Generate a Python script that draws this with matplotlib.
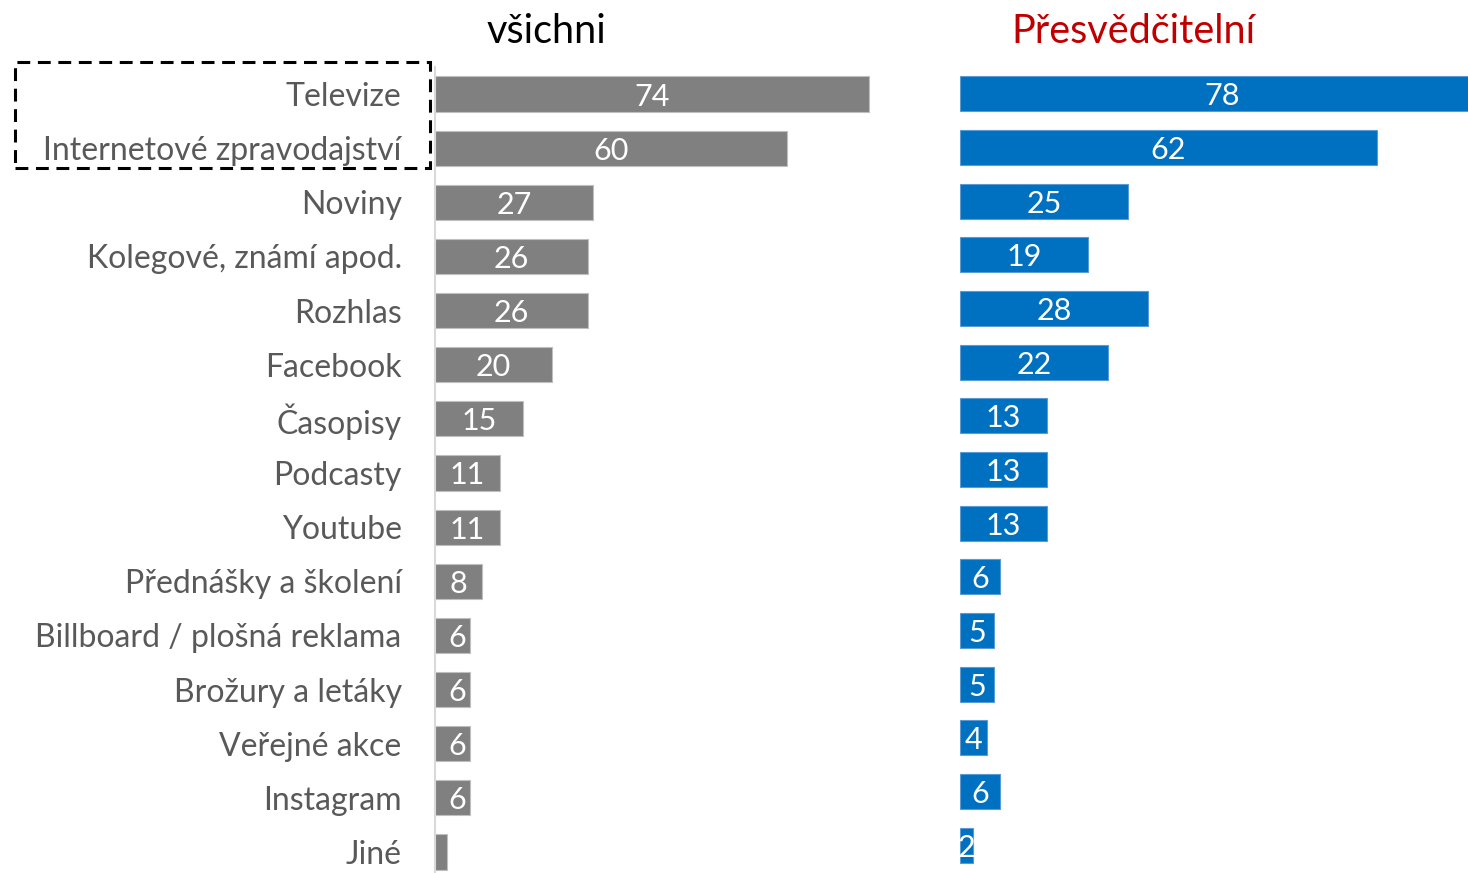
import matplotlib
matplotlib.use("Agg")
import matplotlib.pyplot as plt
from matplotlib.patches import Rectangle

# categories (top to bottom)
categories = ["Televize", "Internetové zpravodajství", "Noviny", "Kolegové, známí apod.",
              "Rozhlas", "Facebook", "Časopisy", "Podcasty", "Youtube",
              "Přednášky a školení", "Billboard / plošná reklama", "Brožury a letáky",
              "Veřejné akce", "Instagram", "Jiné"]

# values
vsichni = [74, 60, 27, 26, 26, 20, 15, 11, 11, 8, 6, 6, 6, 6, 2]
presvedcitelni = [78, 62, 25, 19, 28, 22, 13, 13, 13, 6, 5, 5, 4, 6, 2]

# data labels (the "Jiné" label is not shown on the left)
vsichni_labels = ["74", "60", "27", "26", "26", "20", "15", "11", "11", "8", "6", "6", "6", "6", ""]
presvedcitelni_labels = [str(v) for v in presvedcitelni]

titles = ["všichni", "Přesvědčitelní"]

plt.rcParams["font.family"] = ["Lato", "DejaVu Sans"]

W, H = 1468, 873
fig = plt.figure(figsize=(W / 100, H / 100), dpi=100)

pos = list(range(len(categories)))
xmax = 80

# left panel (všichni)
ax1 = fig.add_axes([435 / W, 1 - 879 / H, xmax * 5.87 / W, 812 / H])
ax1.barh(pos, vsichni, height=0.65, color="#808080", edgecolor="#BFBFBF", linewidth=0.8)
for y, v, lab in zip(pos, vsichni, vsichni_labels):
    ax1.text(max(v / 2, 3.8), y, lab, ha="center", va="center_baseline", color="white", fontsize=22)
ax1.set_xlim(0, xmax)
ax1.set_ylim(len(categories) - 0.5, -0.5)
ax1.set_yticks(pos)
ax1.set_yticklabels(categories, fontsize=23, color="#595959")
ax1.tick_params(axis="y", length=0, pad=24)
ax1.set_xticks([])
for s in ["top", "right", "bottom"]:
    ax1.spines[s].set_visible(False)
ax1.spines["left"].set_color("#D9D9D9")
ax1.spines["left"].set_linewidth(1.5)

# right panel (Přesvědčitelní)
ax2 = fig.add_axes([960 / W, 1 - 872 / H, xmax * 6.72 / W, 805 / H])
ax2.barh(pos, presvedcitelni, height=0.65, color="#0070C0", edgecolor="#5B9BD5", linewidth=0.8)
for y, v, lab in zip(pos, presvedcitelni, presvedcitelni_labels):
    ax2.text(v / 2, y, lab, ha="center", va="center_baseline", color="white", fontsize=22, clip_on=True)
ax2.set_xlim(0, xmax)
ax2.set_ylim(len(categories) - 0.5, -0.5)
ax2.set_xticks([])
ax2.set_yticks([])
for s in ax2.spines.values():
    s.set_visible(False)

# titles
fig.text(546 / W, 1 - 43 / H, titles[0], ha="center", va="baseline", fontsize=28.5, color="black")
fig.text(1133 / W, 1 - 43 / H, titles[1], ha="center", va="baseline", fontsize=28.5, color="#C00000")

# dashed box around the first two categories
box = Rectangle((15 / W, 1 - 168 / H), 415 / W, 106 / H, transform=fig.transFigure,
                fill=False, edgecolor="black", linewidth=2.2, linestyle=(0, (4.2, 2.5)))
fig.patches.append(box)

fig.savefig("out.png", dpi=100)
